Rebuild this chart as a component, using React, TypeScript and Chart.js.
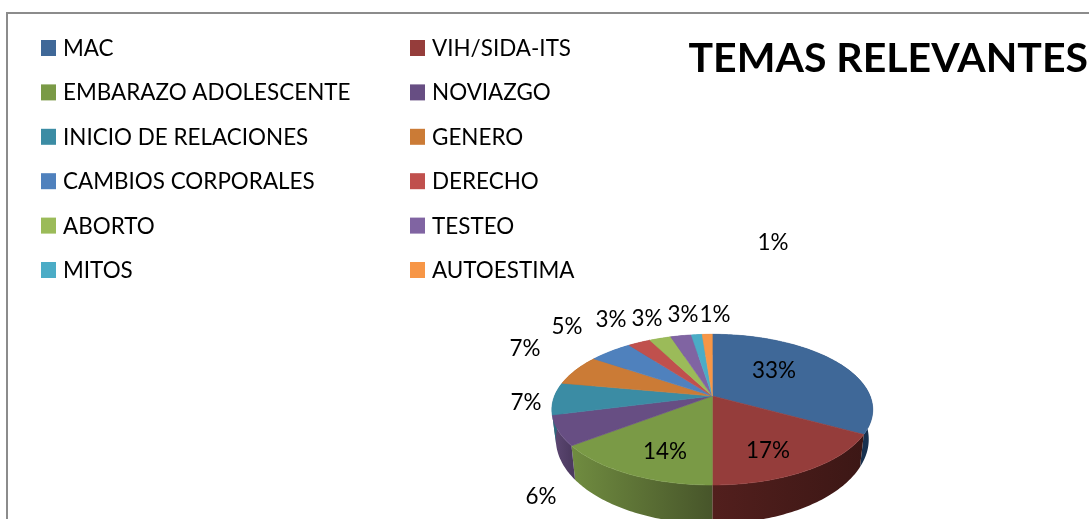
import React, { useEffect, useRef } from "react";
import { Chart, registerables } from "chart.js";

Chart.register(...registerables);

const categories = ["MAC", "VIH/SIDA-ITS", "EMBARAZO ADOLESCENTE", "NOVIAZGO", "INICIO DE RELACIONES", "GENERO", "CAMBIOS CORPORALES", "DERECHO", "ABORTO", "TESTEO", "MITOS", "AUTOESTIMA"];
const sliceValues = [33, 17, 14.6, 6.4, 6.9, 6.6, 5.2, 2.7, 2.6, 2.5, 1.3, 1.2];
const percentLabels = ["33%", "17%", "14%", "6%", "7%", "7%", "5%", "3%", "3%", "3%", "1%", "1%"];
const sliceColors = ["#3f6898", "#953d3b", "#7a9a46", "#674e83", "#3b8ca4", "#cb7b36", "#4f81bd", "#c0504d", "#9bbb59", "#8064a2", "#4bacc6", "#f79646"];
const sideLight = ["#1f3a5c", "#521f1d", "#708c40", "#5e4874", "#2f7286", "#a8652c", "#3f6a9c", "#9c413f", "#7f9a48", "#685285", "#3d8da2", "#cb7b39"];
const sideDark = ["#17304e", "#3c1715", "#47552a", "#4c3a60", "#255a6a", "#8a5224", "#33567f", "#7f3533", "#67803a", "#54426c", "#317384", "#a9662f"];
const labelPositions = [[774, 370.5], [768, 450.5], [665, 451.5], [541, 496.5], [526, 402.5], [525, 348.5], [567, 326.5], [611, 319.5], [647, 318.5], [683, 314.5], [715, 314.5], [773, 242.5]];

const FONT = "Lato";
const APEX = { x: 712.3, y: 396 };
const PIE = { a: 72.9, b: 157.8, k: -0.181, baseX: 0.975, baseY: 1.12, baseShift: 28 };
const LEGEND = { x: [41, 410], y: 48, textY: 48.3, rowGap: 44.4, box: [15, 16], textGap: 22, size: 24, squeeze: 0.935 };

function project(phi: number) {
  const X = Math.sin(phi);
  const Y = -Math.cos(phi);
  const w = 1 + PIE.k * Y;
  return { x: APEX.x + (PIE.b * X) / w, y: APEX.y + (PIE.a * Y) / w };
}

function base(p: { x: number; y: number }) {
  return {
    x: APEX.x + (p.x - APEX.x) * PIE.baseX,
    y: APEX.y + (p.y - APEX.y) * PIE.baseY + PIE.baseShift,
  };
}

const pie3d = {
  id: "pie3d",
  beforeDraw(chart: any) {
    const { ctx } = chart;
    ctx.save();
    ctx.strokeStyle = "#8c8c8c";
    ctx.lineWidth = 2;
    ctx.strokeRect(7, 13, 3000, 3000);
    ctx.restore();
  },
  beforeDatasetsDraw(chart: any) {
    const { ctx } = chart;
    const arcs = chart.getDatasetMeta(0).data;
    const STEP = Math.PI / 180;
    const edge = (arc: any) => {
      const s = arc.startAngle + Math.PI / 2;
      const e = arc.endAngle + Math.PI / 2;
      const n = Math.max(2, Math.ceil((e - s) / STEP));
      const pts = [];
      for (let i = 0; i <= n; i++) pts.push(project(s + ((e - s) * i) / n));
      return pts;
    };
    ctx.save();
    arcs.forEach((arc: any, i: number) => {
      const pts = edge(arc);
      const xs = pts.map((p) => p.x);
      const g = ctx.createLinearGradient(Math.min(...xs), 0, Math.max(...xs), 0);
      g.addColorStop(0, sideLight[i]);
      g.addColorStop(1, sideDark[i]);
      ctx.fillStyle = g;
      ctx.beginPath();
      pts.forEach((p, j) => (j ? ctx.lineTo(p.x, p.y) : ctx.moveTo(p.x, p.y)));
      for (let j = pts.length - 1; j >= 0; j--) {
        const b = base(pts[j]);
        ctx.lineTo(b.x, b.y);
      }
      ctx.closePath();
      ctx.fill();
    });
    arcs.forEach((arc: any, i: number) => {
      const pts = edge(arc);
      ctx.fillStyle = sliceColors[i];
      ctx.strokeStyle = sliceColors[i];
      ctx.lineWidth = 0.6;
      ctx.beginPath();
      ctx.moveTo(APEX.x, APEX.y);
      pts.forEach((p) => ctx.lineTo(p.x, p.y));
      ctx.closePath();
      ctx.fill();
      ctx.stroke();
    });
    ctx.restore();
    return false;
  },
  afterDraw(chart: any) {
    const { ctx } = chart;
    ctx.save();
    ctx.textBaseline = "middle";
    ctx.font = `${LEGEND.size}px ${FONT}`;
    const squeezed = (text: string, x: number, y: number) => {
      ctx.save();
      ctx.translate(x, y);
      ctx.scale(LEGEND.squeeze, 1);
      ctx.fillText(text, 0, 0);
      ctx.restore();
    };
    categories.forEach((name, i) => {
      const col = i % 2;
      const row = Math.floor(i / 2);
      const x = LEGEND.x[col];
      const y = LEGEND.y + row * LEGEND.rowGap;
      ctx.fillStyle = sliceColors[i];
      ctx.fillRect(x, y - LEGEND.box[1] / 2, LEGEND.box[0], LEGEND.box[1]);
      ctx.fillStyle = "#000";
      ctx.textAlign = "left";
      squeezed(name, x + LEGEND.textGap, LEGEND.textY + row * LEGEND.rowGap);
    });
    ctx.textAlign = "center";
    percentLabels.forEach((text, i) => {
      squeezed(text, labelPositions[i][0], labelPositions[i][1]);
    });
    ctx.restore();
  },
};

export default function App() {
  const ref = useRef<HTMLCanvasElement>(null);
  useEffect(() => {
    const chart = new Chart(ref.current!, {
      type: "pie",
      data: {
        labels: categories,
        datasets: [{ data: sliceValues, backgroundColor: sliceColors, borderWidth: 0 }],
      },
      options: {
        animation: false,
        responsive: false,
        layout: { padding: { right: 1, top: 0 } },
        plugins: {
          legend: { display: false },
          tooltip: { enabled: false },
          title: {
            display: true,
            text: "TEMAS RELEVANTES",
            align: "end",
            color: "#000",
            font: { family: FONT, size: 41, weight: "bold" },
            padding: { top: 34, bottom: 0 },
          },
        },
      },
      plugins: [pie3d],
    } as any);
    return () => chart.destroy();
  }, []);
  return (
    <div style={{ position: "fixed", left: 0, top: 0, width: 1089, height: 519, background: "#fff", overflow: "hidden" }}>
      <canvas ref={ref} width={1089} height={519} style={{ display: "block" }} />
    </div>
  );
}
